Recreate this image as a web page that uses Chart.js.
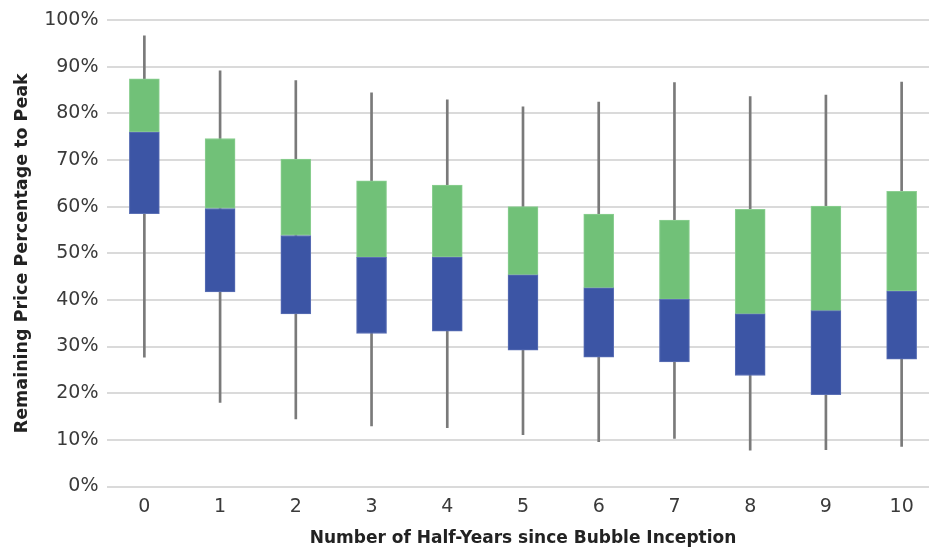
<!DOCTYPE html>
<html>
<head>
<meta charset="utf-8">
<script src="https://cdn.jsdelivr.net/npm/chart.js@4"></script>
<style>
  html, body { margin: 0; padding: 0; background: #fff; overflow: hidden; }
  #wrap { width: 941px; height: 547px; position: relative; }
</style>
</head>
<body>
<div id="wrap"><canvas id="c"></canvas></div>
<script>
// Half-years since bubble inception
const categories = ['0', '1', '2', '3', '4', '5', '6', '7', '8', '9', '10'];
// Remaining price as % of peak: whisker ends, quartiles and median
const minValues    = [27.7, 18.0, 14.5, 13.0, 12.6, 11.1,  9.6, 10.3,  7.8,  7.9,  8.6];
const q1Values     = [58.5, 41.7, 37.0, 32.8, 33.3, 29.2, 27.7, 26.7, 23.8, 19.7, 27.3];
const medianValues = [76.0, 59.6, 53.8, 49.1, 49.2, 45.4, 42.6, 40.1, 37.0, 37.7, 41.9];
const q3Values     = [87.4, 74.6, 70.2, 65.5, 64.6, 60.0, 58.4, 57.1, 59.4, 60.1, 63.3];
const maxValues    = [96.6, 89.1, 87.0, 84.4, 82.9, 81.4, 82.4, 86.6, 83.6, 83.9, 86.7];
const yTicks = [0, 10, 20, 30, 40, 50, 60, 70, 80, 90, 100];

const pairs = (a, b) => a.map((v, i) => [v, b[i]]);
const font = "'DejaVu Sans', 'Liberation Sans', sans-serif";

new Chart(document.getElementById('c'), {
  type: 'bar',
  data: {
    labels: categories,
    datasets: [
      {
        label: 'Lower',
        data: pairs(q1Values, medianValues),
        backgroundColor: '#3c55a5',
        borderColor: '#5b70b5',
        borderWidth: 1,
        borderSkipped: false,
        barThickness: 30,
        grouped: false,
        order: 1
      },
      {
        label: 'Upper',
        data: pairs(medianValues, q3Values),
        backgroundColor: '#71c178',
        borderColor: '#8ccf92',
        borderWidth: 1,
        borderSkipped: false,
        barThickness: 30,
        grouped: false,
        order: 1
      },
      {
        label: 'Range',
        data: pairs(minValues, maxValues),
        backgroundColor: '#7a7a7a',
        barThickness: 2,
        grouped: false,
        order: 3
      }
    ]
  },
  options: {
    responsive: true,
    maintainAspectRatio: false,
    animation: false,
    layout: { padding: { top: 20, left: 0, right: 1.5, bottom: 0 } },
    plugins: { legend: { display: false }, tooltip: { enabled: false } },
    scales: {
      x: {
        grid: { display: false },
        border: { display: false },
        ticks: { color: '#3a3a3a', font: { family: font, size: 19 }, padding: 1 },
        title: {
          display: true,
          text: 'Number of Half-Years since Bubble Inception',
          color: '#222',
          font: { family: font, size: 17, weight: 'bold' },
          padding: { top: 0, bottom: -2 }
        },
        afterFit: (s) => { s.height = 60.5; }
      },
      y: {
        min: 0,
        max: 100,
        afterBuildTicks: (s) => { s.ticks = yTicks.map(v => ({ value: v })); },
        grid: { color: '#dadada', lineWidth: 2, drawTicks: false },
        border: { display: false },
        ticks: {
          color: '#3a3a3a',
          font: { family: font, size: 19 },
          padding: 8,
          callback: (v) => v + '%'
        },
        title: {
          display: true,
          text: 'Remaining Price Percentage to Peak',
          color: '#222',
          font: { family: font, size: 17.5, weight: 'bold' },
          padding: { top: 12, bottom: 0 }
        },
        afterFit: (s) => { s.width = 106.5; }
      }
    }
  }
});
</script>
</body>
</html>
